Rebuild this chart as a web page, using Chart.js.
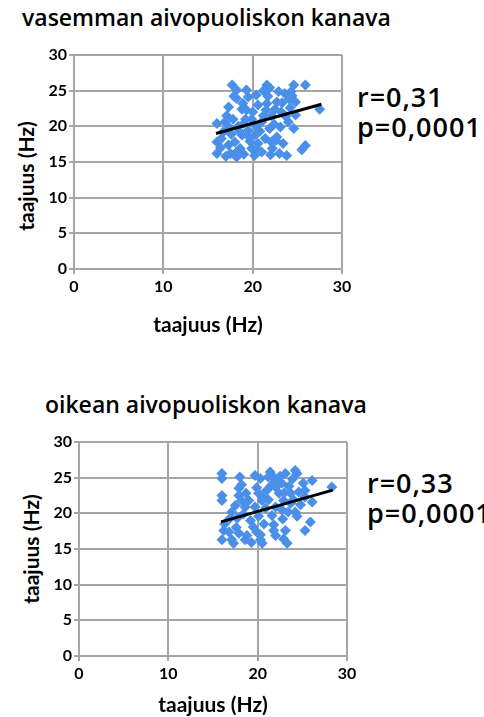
<!DOCTYPE html>
<html>
<head>
<meta charset="utf-8">
<script src="https://cdn.jsdelivr.net/npm/chart.js@4.4.1/dist/chart.umd.min.js"></script>
<style>
  body { margin: 0; background: #fff; width: 484px; height: 717px; position: relative; overflow: hidden; font-family: 'Open Sans', sans-serif; color: #000; }
  .title { position: absolute; font-size: 23px; line-height: 23px; font-weight: 600; white-space: nowrap; }
  .stats { position: absolute; font-size: 27px; line-height: 30px; font-weight: 600; letter-spacing: 1px; white-space: nowrap; }
  .ytitle { position: absolute; width: 160px; height: 24px; line-height: 24px; text-align: center; font-family: Lato, sans-serif; font-weight: bold; font-size: 21px; transform: rotate(-90deg); white-space: nowrap; }
  canvas { position: absolute; left: 0; }
</style>
</head>
<body>
<div class="title" style="left:22px; top:6px;">vasemman aivopuoliskon kanava</div>
<div class="stats" style="left:357px; top:82px;">r=0,31<br>p=0,0001</div>
<div class="ytitle" style="left:-54px; top:164px;">taajuus (Hz)</div>
<canvas id="leftChart" width="360" height="300" style="top:40px;"></canvas>

<div class="title" style="left:45px; top:393px;">oikean aivopuoliskon kanava</div>
<div class="stats" style="left:367px; top:468px;">r=0,33<br>p=0,0001</div>
<div class="ytitle" style="left:-49px; top:537px;">taajuus (Hz)</div>
<canvas id="rightChart" width="360" height="292" style="top:425px;"></canvas>

<script>
// vasen aivopuolisko
const leftX = [17.7,18.2,19.3,19.5,18.2,21.6,21.9,21.2,24.6,25.9, 23.6,24.4,22.7,21.6,24.8,27.5,24.8,24.6,25.9,25.5,
  23.8,23.4,22.7,23.1,16.0,16.0,16.0,17.3,17.1,16.9, 16.7,17.3,17.5,18.2,18.0,18.6,18.8,18.8,19.2,19.9,
  20.3,19.5,20.3,20.6,19.9,21.0,21.4,22.1,21.9,21.2, 22.1,22.5,23.2,24.0,20.6,19.3,17.8,18.4,17.6,16.4,
  17.0,19.0,20.2,20.8,22.4,23.3,24.2,22.9,20.4,18.5, 19.7,22.2,23.0,24.3,21.5,20.0,17.9,18.9,16.5,19.0,
  21.0,22.6,23.7,20.5,18.3,21.7,24.1,17.4,22.0,19.6];
const leftY = [25.8,25.1,25.1,24.1,23.9,25.8,25.4,25.0,25.8,25.8, 24.6,24.3,23.4,23.2,23.4,22.4,21.6,19.7,17.3,16.7,
  15.9,17.6,18.5,19.9,20.4,17.8,16.2,22.7,21.5,20.6, 19.2,17.4,16.2,15.7,17.8,16.9,18.8,22.4,21.0,21.0,
  20.1,19.4,18.8,17.6,16.9,16.4,18.3,17.8,19.7,21.5, 21.5,22.4,22.0,20.6,23.0,22.3,21.0,20.0,18.9,17.0,
  15.8,16.1,15.9,19.3,20.3,23.3,22.6,24.9,24.4,19.3, 17.9,16.9,16.2,24.9,22.3,22.0,24.2,23.2,18.3,20.4,
  20.6,18.0,21.4,16.8,16.5,24.2,23.8,19.8,16.0,18.5];
const leftTrendX = [15.9, 27.7];
const leftTrendY = [19.0, 23.1];

// oikea aivopuolisko
const rightX = [16.0,16.0,16.0,16.0,18.0,19.7,20.3,21.4,21.6,23.1, 24.4,24.2,26.1,25.1,28.3,25.3,25.3,26.1,24.8,23.7,
  22.7,22.0,21.0,20.1,20.5,19.7,19.0,17.9,17.9,18.2, 17.5,17.1,16.9,17.7,18.4,18.6,16.2,16.0,16.8,17.1,
  17.3,18.6,18.8,19.5,19.9,20.3,20.5,21.8,22.0,22.9, 23.3,23.1,25.3,25.9,21.6,22.7,22.0,23.4,24.2,23.7,
  22.9,22.4,21.2,20.9,20.1,16.3,17.6,19.2,20.7,21.5, 23.5,24.6,23.9,21.2,22.5,19.9,18.7,24.0,21.8,22.8,
  20.3,17.9,19.3,22.1,20.6,23.0,24.4,18.2];
const rightY = [25.6,24.9,22.5,21.8,25.1,25.3,24.9,25.8,25.3,25.6, 25.6,26.0,24.6,24.2,23.7,23.2,22.3,21.6,21.2,22.8,
  24.2,23.7,23.2,22.8,21.8,20.9,21.8,23.5,22.5,21.8, 21.1,20.2,19.3,19.3,19.9,20.9,17.6,16.3,17.4,16.3,
  15.8,16.3,16.9,18.1,17.4,16.3,15.8,17.6,16.9,16.4, 15.8,17.6,17.6,18.8,19.7,20.5,20.9,20.2,20.2,21.4,
  21.8,22.8,21.9,20.7,19.6,18.5,18.0,19.0,18.5,23.9, 23.8,23.0,24.8,25.1,25.2,23.6,22.8,21.9,18.4,19.2,
  17.0,17.2,15.9,24.6,22.2,22.9,19.6,24.0];
const rightTrendX = [15.9, 28.4];
const rightTrendY = [18.8, 23.25];

const axisTitle = 'taajuus (Hz)';
const xStep = 10;
const yStep = 5;
const axisMax = 30;

const blue = '#4a8fe8';
const gridGray = '#a6a6a6';

Chart.defaults.font.family = 'Lato, sans-serif';
Chart.defaults.color = '#000';

function makeChart(id, xs, ys, tx, ty, layout) {
  const points = xs.map((x, i) => ({ x, y: ys[i] }));
  const trend = tx.map((x, i) => ({ x, y: ty[i] }));

  return new Chart(document.getElementById(id), {
    type: 'scatter',
    data: {
      datasets: [
        { data: trend, showLine: true, borderColor: '#000', borderWidth: 3, pointRadius: 0 },
        { data: points, pointStyle: 'rectRot', pointRadius: 5.5, backgroundColor: blue, borderWidth: 0 }
      ]
    },
    options: {
      responsive: false,
      animation: false,
      events: [],
      layout: { padding: { top: layout.top, right: layout.right, left: 0, bottom: 0 } },
      plugins: { legend: { display: false }, tooltip: { enabled: false } },
      scales: {
        x: {
          type: 'linear', min: 0, max: axisMax,
          ticks: { stepSize: xStep, padding: 3, maxRotation: 0, font: { size: 16, weight: 'bold' } },
          grid: { color: gridGray, lineWidth: 2, tickLength: 5 },
          border: { color: gridGray, width: 2 },
          title: { display: true, text: axisTitle, font: { size: 21, weight: 'bold', lineHeight: 1 }, padding: { top: 0, bottom: layout.titlePad } },
          afterFit: (scale) => { scale.height = layout.xHeight; }
        },
        y: {
          type: 'linear', min: 0, max: axisMax,
          ticks: { stepSize: yStep, padding: 2, font: { size: 16, weight: 'bold' } },
          grid: { color: gridGray, lineWidth: 2, tickLength: 5 },
          border: { color: gridGray, width: 2 },
          afterFit: (scale) => { scale.width = layout.yWidth; }
        }
      }
    }
  });
}

makeChart('leftChart', leftX, leftY, leftTrendX, leftTrendY,
  { top: 15, right: 18, yWidth: 74, xHeight: 71, titlePad: 4 });
makeChart('rightChart', rightX, rightY, rightTrendX, rightTrendY,
  { top: 17, right: 13, yWidth: 79, xHeight: 61, titlePad: 1 });
</script>
</body>
</html>
